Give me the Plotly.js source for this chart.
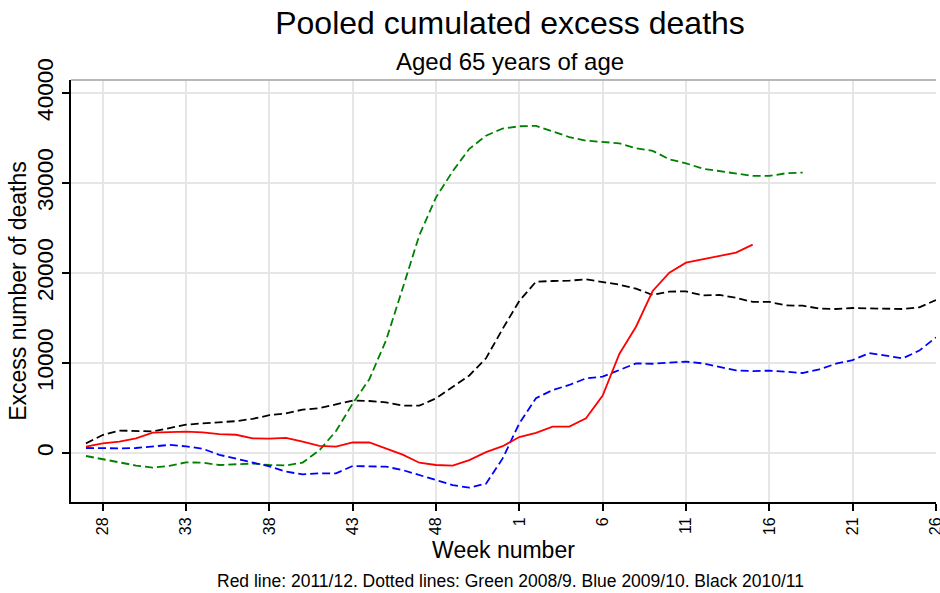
<!DOCTYPE html>
<html>
<head>
<meta charset="utf-8">
<script src="https://cdn.plot.ly/plotly-3.0.1.min.js"></script>
<style>html,body{margin:0;padding:0;background:#fff}#chart{width:940px;height:593px}</style>
</head>
<body>
<div id="chart"></div>
<script>
// Week numbers along the x axis (season runs from week 27 to week 26)
const weeks = ['27','28','29','30','31','32','33','34','35','36','37','38','39','40','41','42','43','44','45','46','47','48','49','50','51','52',
               '1','2','3','4','5','6','7','8','9','10','11','12','13','14','15','16','17','18','19','20','21','22','23','24','25','26'];
const tickWeeks = ['28','33','38','43','48','1','6','11','16','21','26'];
const yTicks = [0, 10000, 20000, 30000, 40000];
const yTickText = ['0', '10000', '20000', '30000', '40000'];

// Red: 2011/12 (solid)
const red2011 = [700, 1070, 1260, 1630, 2260, 2350, 2370, 2300, 2090, 2030, 1630, 1590, 1680, 1260, 800, 720, 1170, 1190, 520, -180, -1080, -1330, -1400, -780, 100, 760, 1780, 2240, 2930, 2930, 3850, 6380, 11000, 14030, 18000, 20040, 21150, 21520, 21890, 22260, 23150];
// Green: 2008/9 (dashed)
const green2008 = [-330, -670, -1040, -1390, -1630, -1420, -1040, -1070, -1330, -1230, -1170, -1330, -1380, -1060, 300, 2440, 5500, 8200, 12500, 18300, 24200, 28400, 31300, 33800, 35250, 36050, 36300, 36350, 35750, 35100, 34700, 34580, 34410, 33860, 33570, 32630, 32190, 31590, 31330, 31000, 30780, 30780, 31080, 31150];
// Blue: 2009/10 (dashed)
const blue2009 = [560, 500, 520, 560, 700, 900, 740, 480, -200, -640, -1020, -1480, -2070, -2370, -2260, -2260, -1440, -1440, -1520, -1890, -2440, -3070, -3560, -3850, -3400, -600, 3300, 6100, 7000, 7560, 8300, 8480, 9200, 9960, 9920, 10000, 10150, 9960, 9590, 9180, 9110, 9150, 9030, 8890, 9300, 9920, 10330, 11100, 10820, 10520, 11380, 12850];
// Black: 2010/11 (dashed)
const black2010 = [1070, 2000, 2500, 2420, 2400, 2770, 3150, 3300, 3460, 3540, 3800, 4200, 4410, 4820, 4980, 5370, 5830, 5780, 5620, 5270, 5260, 6070, 7330, 8620, 10520, 13800, 16900, 19040, 19110, 19150, 19300, 18960, 18700, 18260, 17560, 17930, 17960, 17520, 17560, 17240, 16790, 16790, 16400, 16370, 16050, 16000, 16110, 16070, 16000, 16000, 16190, 17000];

const dash = '8px,4px';
function series(name, vals, color, dashed) {
  return {
    type: 'scatter', mode: 'lines', name: name,
    x: weeks.slice(0, vals.length), y: vals,
    line: {color: color, width: 1.8, dash: dashed ? dash : 'solid'},
    hoverinfo: 'x+y+name'
  };
}

const data = [
  series('Green 2008/9', green2008, '#008000', true),
  series('Blue 2009/10', blue2009, '#0000ff', true),
  series('Black 2010/11', black2010, '#000000', true),
  series('Red 2011/12', red2011, '#ff0000', false)
];

const font = 'Liberation Sans, Arial, Helvetica, sans-serif';
const layout = {
  width: 940, height: 593,
  margin: {l: 71, r: 4, t: 80, b: 91},
  paper_bgcolor: '#ffffff', plot_bgcolor: '#ffffff',
  showlegend: false,
  font: {family: font, color: '#000000'},
  title: {
    text: 'Pooled cumulated excess deaths',
    font: {size: 32, family: font, color: '#000000'},
    x: 510 / 940, xanchor: 'center', xref: 'container',
    y: 1 - 23 / 593, yanchor: 'middle', yref: 'container'
  },
  xaxis: {
    type: 'category', categoryorder: 'array', categoryarray: weeks,
    range: [-0.9, 51],
    tickmode: 'array', tickvals: tickWeeks, ticktext: tickWeeks,
    tickangle: -90, tickfont: {size: 16, family: font, color: '#000'},
    ticks: 'outside', ticklen: 7, tickwidth: 1.5, tickcolor: '#000',
    showline: true, linecolor: '#000', linewidth: 2,
    showgrid: true, gridcolor: '#e6e6e6', gridwidth: 1.5,
    zeroline: false,
    title: {text: 'Week number', font: {size: 23, family: font, color: '#000'}, standoff: 8}
  },
  yaxis: {
    range: [-5440, 41440],
    tickmode: 'array', tickvals: yTicks, ticktext: yTickText,
    tickangle: -90, tickfont: {size: 22.5, family: font, color: '#000'},
    ticks: 'outside', ticklen: 7, tickwidth: 1.5, tickcolor: '#000',
    showline: true, linecolor: '#000', linewidth: 2,
    showgrid: true, gridcolor: '#e6e6e6', gridwidth: 1.5,
    zeroline: false,
    title: {text: 'Excess number of deaths', font: {size: 23, family: font, color: '#000'}, standoff: 0}
  },
  shapes: [
    {type: 'line', xref: 'paper', yref: 'paper', x0: 0, x1: 1, y0: 1, y1: 1,
     line: {color: '#a0a0a0', width: 1.5}}
  ],
  annotations: [
    {text: 'Aged 65 years of age', xref: 'paper', yref: 'paper',
     x: (510 - 71) / 865, y: 1 + (80 - 62) / 422, xanchor: 'center', yanchor: 'middle',
     showarrow: false, font: {size: 24, family: font, color: '#000'}},
    {text: 'Red line: 2011/12. Dotted lines: Green 2008/9. Blue 2009/10. Black 2010/11',
     xref: 'paper', yref: 'paper',
     x: (510 - 71) / 865, y: -(581 - 502) / 422, xanchor: 'center', yanchor: 'middle',
     showarrow: false, font: {size: 17.5, family: font, color: '#000'}}
  ]
};

Plotly.newPlot('chart', data, layout, {displayModeBar: false});
</script>
</body>
</html>
